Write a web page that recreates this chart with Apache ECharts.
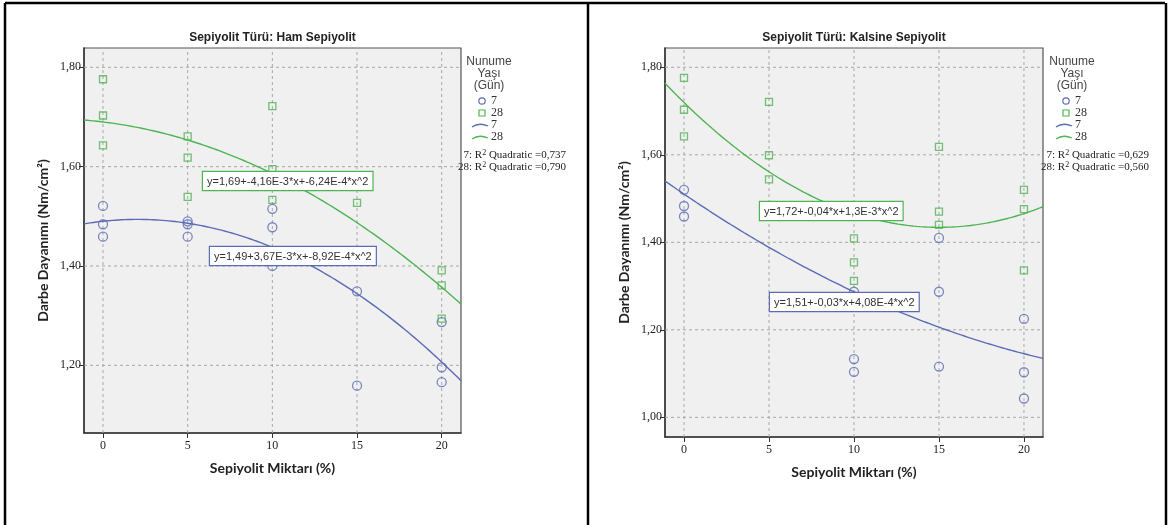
<!DOCTYPE html>
<html>
<head>
<meta charset="utf-8">
<script src="https://cdn.jsdelivr.net/npm/echarts@6/dist/echarts.min.js"></script>
<style>
  html, body { margin: 0; padding: 0; background: #fff; }
  #c { width: 1170px; height: 525px; }
</style>
</head>
<body>
<div id="c"></div>
<script>
// ---- tick values ----
const xTicks = [0, 5, 10, 15, 20];
const yTicksHam = [1.2, 1.4, 1.6, 1.8];
const yTicksKal = [1.0, 1.2, 1.4, 1.6, 1.8];

// ---- Ham Sepiyolit: measured impact strength ----
const hamX7  = [0, 0, 0, 5, 5, 5, 10, 10, 10, 15, 15, 20, 20, 20];
const hamY7  = [1.521, 1.484, 1.459, 1.490, 1.484, 1.459, 1.515, 1.478, 1.400, 1.349, 1.159, 1.287, 1.196, 1.166];
const hamX28 = [0, 0, 0, 5, 5, 5, 10, 10, 10, 15, 20, 20, 20];
const hamY28 = [1.776, 1.703, 1.643, 1.661, 1.618, 1.539, 1.722, 1.595, 1.533, 1.527, 1.391, 1.361, 1.294];

// ---- Kalsine Sepiyolit: measured impact strength ----
const kalX7  = [0, 0, 0, 10, 10, 10, 15, 15, 15, 20, 20, 20];
const kalY7  = [1.520, 1.483, 1.459, 1.287, 1.133, 1.104, 1.410, 1.287, 1.116, 1.225, 1.103, 1.043];
const kalX28 = [0, 0, 0, 5, 5, 5, 10, 10, 10, 15, 15, 15, 20, 20, 20];
const kalY28 = [1.776, 1.703, 1.642, 1.721, 1.599, 1.544, 1.409, 1.354, 1.312, 1.618, 1.470, 1.440, 1.520, 1.476, 1.336];

// ---- quadratic fit coefficients [a, b, c] for y = a + b*x + c*x^2 ----
const hamFit7  = [1.49, 3.67e-3, -8.92e-4];
const hamFit28 = [1.69, -4.16e-3, -6.24e-4];
const kalFit7  = [1.5102, -0.0264, 4.08e-4];
const kalFit28 = [1.7196, -0.038, 1.265e-3];

// ---- printed fit equations and R² ----
const hamEq7  = 'y=1,49+3,67E-3*x+-8,92E-4*x^2';
const hamEq28 = 'y=1,69+-4,16E-3*x+-6,24E-4*x^2';
const kalEq7  = 'y=1,51+-0,03*x+4,08E-4*x^2';
const kalEq28 = 'y=1,72+-0,04*x+1,3E-3*x^2';
const hamR2 = ['0,737', '0,790'];
const kalR2 = ['0,629', '0,560'];
const groupNames = ['7', '28'];
const panelTitles = ['Sepiyolit Türü: Ham Sepiyolit', 'Sepiyolit Türü: Kalsine Sepiyolit'];

// ---- styling ----
const BLUE = '#5b6bb5';
const GREEN = '#4fb453';
const TXT = '#222';
const SERIF = '"Liberation Serif", "Times New Roman", serif';
const SANS = '"Liberation Sans", Arial, sans-serif';
const TITLE_FONT = 'Lato, "Open Sans", sans-serif';

const panels = [
  { grid: { left: 84, top: 48, width: 377, height: 385 }, xMin: -1.122, xMax: 21.14, yMin: 1.0637, yMax: 1.8389,
    yTicks: yTicksHam, x7: hamX7, y7: hamY7, x28: hamX28, y28: hamY28, fit7: hamFit7, fit28: hamFit28 },
  { grid: { left: 665, top: 48, width: 378, height: 389 }, xMin: -1.118, xMax: 21.12, yMin: 0.9550, yMax: 1.8441,
    yTicks: yTicksKal, x7: kalX7, y7: kalY7, x28: kalX28, y28: kalY28, fit7: kalFit7, fit28: kalFit28 }
];

function quad(c, x) { return c[0] + c[1] * x + c[2] * x * x; }
function fitCurve(c, lo, hi) {
  const pts = [];
  for (let i = 0; i <= 120; i++) {
    const x = lo + (hi - lo) * i / 120;
    pts.push([x, quad(c, x)]);
  }
  return pts;
}
function zip(xs, ys) { return xs.map((x, i) => [x, ys[i]]); }
const comma = v => v.toFixed(2).replace('.', ',');

const grids = [], xAxes = [], yAxes = [], series = [];

panels.forEach((p, i) => {
  grids.push(Object.assign({ show: true, backgroundColor: '#f0f0f0', borderColor: '#555', borderWidth: 1.2 }, p.grid));
  xAxes.push({
    type: 'value', gridIndex: i, min: p.xMin, max: p.xMax,
    name: 'Sepiyolit Miktarı (%)', nameLocation: 'middle', nameGap: 28,
    nameTextStyle: { fontFamily: TITLE_FONT, fontWeight: 'bold', fontSize: 14, color: TXT },
    axisLine: { show: true, onZero: false, lineStyle: { color: '#333', width: 1.5 } },
    axisTick: { show: true, customValues: xTicks, length: 5, lineStyle: { color: '#333' } },
    axisLabel: { customValues: xTicks, fontFamily: SERIF, fontSize: 12, color: TXT, margin: 7 },
    splitLine: { show: false }
  });
  yAxes.push({
    type: 'value', gridIndex: i, min: p.yMin, max: p.yMax,
    name: 'Darbe Dayanımı (Nm/cm²)', nameLocation: 'middle', nameGap: 34, nameRotate: 90,
    nameTextStyle: { fontFamily: TITLE_FONT, fontWeight: 'bold', fontSize: 14, color: TXT },
    axisLine: { show: true, onZero: false, lineStyle: { color: '#333', width: 1.5 } },
    axisTick: { show: true, customValues: p.yTicks, length: 5, lineStyle: { color: '#333' } },
    axisLabel: { customValues: p.yTicks, fontFamily: SERIF, fontSize: 12, color: TXT, margin: 3, formatter: comma },
    splitLine: { show: false }
  });

  const gridLine = pts => ({
    type: 'line', xAxisIndex: i, yAxisIndex: i, data: pts, symbol: 'none', silent: true, z: 1,
    lineStyle: { color: '#a8a8a8', width: 1, type: [3, 3] }
  });
  xTicks.forEach(t => series.push(gridLine([[t, p.yMin], [t, p.yMax]])));
  p.yTicks.forEach(t => series.push(gridLine([[p.xMin, t], [p.xMax, t]])));

  series.push({
    type: 'line', xAxisIndex: i, yAxisIndex: i, data: fitCurve(p.fit7, p.xMin, p.xMax), symbol: 'none',
    silent: true, z: 3, lineStyle: { color: BLUE, width: 1.4 }
  });
  series.push({
    type: 'line', xAxisIndex: i, yAxisIndex: i, data: fitCurve(p.fit28, p.xMin, p.xMax), symbol: 'none',
    silent: true, z: 3, lineStyle: { color: GREEN, width: 1.4 }
  });
  series.push({
    type: 'scatter', xAxisIndex: i, yAxisIndex: i, data: zip(p.x7, p.y7), symbol: 'circle', symbolSize: 9, z: 4,
    itemStyle: { color: 'rgba(0,0,0,0)', borderColor: BLUE, borderWidth: 1.3 }
  });
  series.push({
    type: 'scatter', xAxisIndex: i, yAxisIndex: i, data: zip(p.x28, p.y28), symbol: 'rect', symbolSize: 7, z: 4,
    itemStyle: { color: 'rgba(0,0,0,0)', borderColor: GREEN, borderWidth: 1.3 }
  });
});

// ---- page decoration: frames, titles, legends, equation boxes ----
const graphic = [];
// panel frames
[[5, 3, 1165, 3], [5, 3, 5, 525], [588, 3, 588, 525], [1166, 3, 1166, 525]].forEach(l => {
  graphic.push({ type: 'line', shape: { x1: l[0], y1: l[1], x2: l[2], y2: l[3] },
    style: { stroke: '#000', lineWidth: 2.5 }, z: 10 });
});

const legendPos = [
  { cx: 489, mx: 482, tx: 491, rx: 566 },
  { cx: 1072, mx: 1066, tx: 1075, rx: 1149 }
];
const eqs = [
  [{ t: hamEq28, x: 203, y: 172, c: GREEN }, { t: hamEq7, x: 210, y: 247, c: BLUE }],
  [{ t: kalEq28, x: 760, y: 202, c: GREEN }, { t: kalEq7, x: 770, y: 293, c: BLUE }]
];
const r2s = [hamR2, kalR2];

panels.forEach((p, i) => {
  const cxTitle = p.grid.left + p.grid.width / 2;
  graphic.push({ type: 'text', x: cxTitle, y: 38, z: 20,
    style: { text: panelTitles[i], font: 'bold 12px ' + SANS, fill: TXT, textAlign: 'center', textVerticalAlign: 'middle' } });

  const L = legendPos[i];
  ['Nunume', 'Yaşı', '(Gün)'].forEach((t, k) => {
    graphic.push({ type: 'text', x: L.cx, y: 62 + k * 11.7, z: 20,
      style: { text: t, font: '12px ' + SANS, fill: '#444', textAlign: 'center', textVerticalAlign: 'middle' } });
  });
  const rows = [101, 113, 125, 137];
  graphic.push({ type: 'circle', shape: { cx: L.mx, cy: rows[0], r: 3.2 }, z: 20,
    style: { fill: 'none', stroke: BLUE, lineWidth: 1.2 } });
  graphic.push({ type: 'rect', shape: { x: L.mx - 3, y: rows[1] - 3, width: 6, height: 6 }, z: 20,
    style: { fill: 'none', stroke: GREEN, lineWidth: 1.2 } });
  [BLUE, GREEN].forEach((col, k) => {
    const y = rows[2 + k];
    graphic.push({ type: 'bezierCurve', z: 20,
      shape: { x1: L.mx - 10, y1: y + 2, x2: L.mx + 6, y2: y + 1, cpx1: L.mx - 3, cpy1: y - 3 },
      style: { fill: 'none', stroke: col, lineWidth: 1.3 } });
  });
  groupNames.concat(groupNames).forEach((t, k) => {
    graphic.push({ type: 'text', x: L.tx, y: rows[k], z: 20,
      style: { text: t, font: '12px ' + SERIF, fill: '#333', textAlign: 'left', textVerticalAlign: 'middle' } });
  });
  groupNames.forEach((g, k) => {
    graphic.push({ type: 'text', x: L.rx, y: 155 + k * 11.7, z: 20,
      style: { text: g + ': R{s|2} Quadratic =' + r2s[i][k], font: '11px ' + SERIF, fill: '#222',
        textAlign: 'right', textVerticalAlign: 'middle',
        rich: { s: { fontSize: 8, fontFamily: SERIF, verticalAlign: 'top', lineHeight: 12 } } } });
  });

  eqs[i].forEach(e => {
    graphic.push({ type: 'text', x: e.x, y: e.y, z: 30,
      style: { text: e.t, font: '11px ' + SANS, fill: '#333', backgroundColor: '#fff',
        borderColor: e.c, borderWidth: 1.2, padding: [4, 4, 3, 4] } });
  });
});

const chart = echarts.init(document.getElementById('c'), null, { renderer: 'canvas' });
chart.setOption({
  animation: false,
  backgroundColor: '#fff',
  grid: grids, xAxis: xAxes, yAxis: yAxes, series: series, graphic: graphic
});
</script>
</body>
</html>
